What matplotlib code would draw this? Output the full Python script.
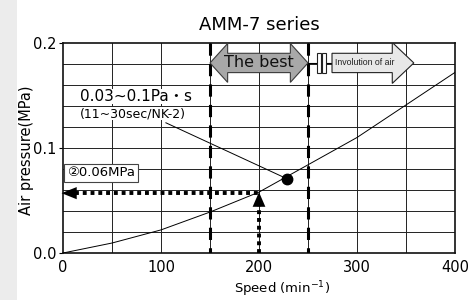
import matplotlib
matplotlib.use("Agg")
import matplotlib.pyplot as plt
from matplotlib.patches import Polygon, Rectangle
from matplotlib import font_manager

FONTS = ['DejaVu Sans', 'Noto Sans CJK JP']
plt.rcParams['font.family'] = FONTS

# ---- data ----
speed = [0, 50, 100, 150, 200, 250, 300, 350, 400]
pressure = [0.0, 0.0095, 0.022, 0.039, 0.058, 0.084, 0.110, 0.141, 0.172]
best_range = [150, 250]
op_speed = 200
op_pressure = 0.057
point_speed = 229
point_pressure = 0.0705
leader_start = [105, 0.124]
x_ticks = [0, 100, 200, 300, 400]
y_ticks = [0.0, 0.1, 0.2]
x_ticklabels = ['0', '100', '200', '300', '400']
y_ticklabels = ['0.0', '0.1', '0.2']
title = 'AMM-7 series'
xlabel = 'Speed (min$^{\\mathregular{-1}}$)'
ylabel = 'Air pressure(MPa)'
viscosity_text = '0.03~0.1Pa・s'
time_text = '(11~30sec/NK-2)'
op_text = '②0.06MPa'
best_text = 'The best'
involution_text = 'Involution of air'

narrow = 'Liberation Sans Narrow'
avail = {f.name for f in font_manager.fontManager.ttflist}
if narrow in avail:
    inv_font, inv_size = [narrow, 'DejaVu Sans'], 7.8
else:
    inv_font, inv_size = ['Liberation Sans', 'DejaVu Sans'], 6.3

fig = plt.figure(figsize=(4.7, 3.0), dpi=100)
fig.patches.append(Rectangle((0, 0), 17/470, 1, transform=fig.transFigure,
                             facecolor='#ececec', edgecolor='none', zorder=0))
ax = fig.add_axes([63/470, 47/300, 392/470, 210/300])
ax.set_xlim(0, 400)
ax.set_ylim(0, 0.2)

# grid
for gx in range(50, 400, 50):
    ax.axvline(gx, color='#222222', lw=0.7, zorder=1)
for i in range(1, 10):
    ax.axhline(i * 0.02, color='#222222', lw=0.7, zorder=1)
for s in ax.spines.values():
    s.set_linewidth(1.2)
    s.set_color('#111111')

ax.set_xticks(x_ticks)
ax.set_xticklabels(x_ticklabels)
ax.set_yticks(y_ticks)
ax.set_yticklabels(y_ticklabels)
ax.tick_params(axis='x', length=0, pad=5, labelsize=10.5)
ax.tick_params(axis='y', length=3, pad=2, labelsize=10.5, width=0.8)

ax.set_title(title, fontsize=13, pad=9)
ax.text(223, -0.0345, xlabel, ha='center', va='center', fontsize=9.5)
fig.text(27/470, 0.5, ylabel, rotation=90,
         ha='center', va='center', fontsize=10.5)

# curve
ax.plot(speed, pressure, color='black', lw=0.7, zorder=3)

# best range dashed lines
for bx in best_range:
    ax.plot([bx, bx], [0.2, 0.0], color='black', lw=2.2,
            linestyle=(0, (4, 2.7)), solid_capstyle='butt',
            dash_capstyle='butt', zorder=4)

# operating point dotted arrows
ax.plot([12, op_speed - 1], [op_pressure, op_pressure], color='black', lw=2.8,
        linestyle=(0, (1, 1)), dash_capstyle='butt', zorder=5, clip_on=False)
ax.plot([op_speed, op_speed], [0, op_pressure - 0.012], color='black', lw=2.8,
        linestyle=(0, (1, 1)), dash_capstyle='butt', zorder=5)
ax.add_patch(Polygon([[-1.5, op_pressure], [14, op_pressure + 0.0058],
                      [14, op_pressure - 0.0058]], closed=True,
                     facecolor='black', edgecolor='none', zorder=6, clip_on=False))
ax.add_patch(Polygon([[op_speed, op_pressure + 0.001],
                      [op_speed - 6.5, op_pressure - 0.013],
                      [op_speed + 6.5, op_pressure - 0.013]], closed=True,
                     facecolor='black', edgecolor='none', zorder=6))

# leader line and point
ax.plot([leader_start[0], point_speed], [leader_start[1], point_pressure],
        color='black', lw=0.7, zorder=3)
ax.plot([point_speed], [point_pressure], 'o', color='black', ms=7.5, zorder=7)

# texts
ax.text(17, 0.1486, viscosity_text, ha='left', va='center', fontsize=11,
        bbox=dict(facecolor='white', edgecolor='none', pad=0), zorder=6)
ax.text(17, 0.1325, time_text, ha='left', va='center', fontsize=9,
        bbox=dict(facecolor='white', edgecolor='none', pad=0), zorder=6)
ax.text(4, 0.0762, op_text, ha='left', va='center', fontsize=9.5,
        bbox=dict(facecolor='white', edgecolor='#444444', lw=0.8,
                  boxstyle='square,pad=0.2'), zorder=6)

# top arrows
yc, h, H, L = 0.181, 0.0092, 0.0185, 18
x0, x1 = best_range
best_poly = [[x0, yc], [x0 + L, yc + H], [x0 + L, yc + h], [x1 - L, yc + h],
             [x1 - L, yc + H], [x1, yc], [x1 - L, yc - H], [x1 - L, yc - h],
             [x0 + L, yc - h], [x0 + L, yc - H]]
ax.add_patch(Polygon(best_poly, closed=True, facecolor='#a8a8a8',
                     edgecolor='#3a3a3a', lw=0.8, zorder=8))
ax.text((x0 + x1) / 2, yc, best_text, ha='center', va='center',
        fontsize=11.5, color='#111111', zorder=9)

ax.plot([x1, 275], [yc, yc], color='black', lw=0.8, zorder=8)
for rx in (259, 264):
    ax.add_patch(Rectangle((rx, yc - h), 4, 2 * h, facecolor='white',
                           edgecolor='#222222', lw=0.8, zorder=9))
inv_poly = [[274.5, yc + h], [336, yc + h], [336, yc + H + 0.001], [358, yc],
            [336, yc - H - 0.001], [336, yc - h], [274.5, yc - h]]
ax.add_patch(Polygon(inv_poly, closed=True, facecolor='#e8e8e8',
                     edgecolor='#222222', lw=0.8, zorder=8))
ax.text(308, yc, involution_text, ha='center', va='center', fontsize=inv_size,
        family=inv_font, color='#222222', zorder=9)

fig.savefig('out.png', dpi=100)
